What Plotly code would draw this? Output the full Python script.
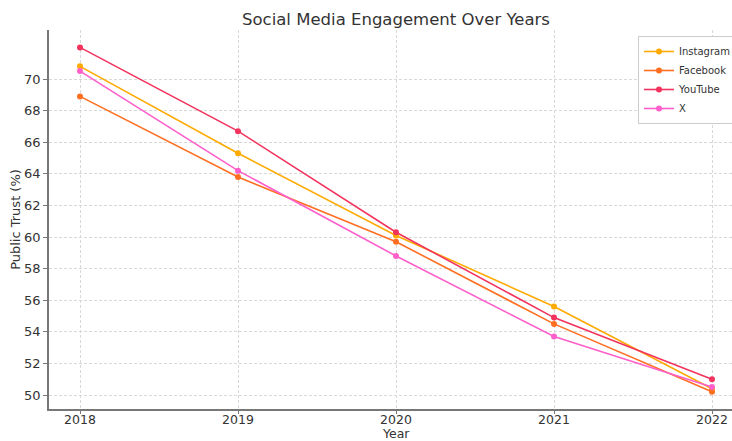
import plotly.graph_objects as go

years = [2018, 2019, 2020, 2021, 2022]
instagram = [70.8, 65.3, 60.1, 55.6, 50.4]
facebook = [68.9, 63.8, 59.7, 54.5, 50.2]
youtube = [72.0, 66.7, 60.3, 54.9, 51.0]
x_platform = [70.5, 64.2, 58.8, 53.7, 50.5]

series = [
    ("Instagram", instagram, "#FFAA00"),
    ("Facebook", facebook, "#FF6F22"),
    ("YouTube", youtube, "#F2335E"),
    ("X", x_platform, "#FF5FCB"),
]

y_ticks = list(range(50, 71, 2))

fig = go.Figure()
for name, vals, color in series:
    fig.add_trace(go.Scatter(
        x=years, y=vals, name=name, mode="lines+markers",
        line=dict(color=color, width=1.6),
        marker=dict(color=color, size=6),
    ))

W, H = 732, 441
L, R, T, B = 49, 0, 30, 32

fig.update_layout(
    width=W, height=H,
    margin=dict(l=L, r=R, t=T, b=B, autoexpand=False),
    paper_bgcolor="white", plot_bgcolor="white",
    font=dict(family="DejaVu Sans", size=13, color="#333333"),
    title=dict(text="Social Media Engagement Over Years",
               x=396 / W, xanchor="center", xref="container",
               y=1 - 19 / H, yanchor="middle", yref="container",
               font=dict(size=16.5, color="#333333")),
    showlegend=True,
    legend=dict(x=(638 - L) / (W - L - R), xanchor="left",
                y=1 - (36 - T) / (H - T - B), yanchor="top",
                bgcolor="white", bordercolor="#cccccc", borderwidth=1,
                font=dict(size=10, color="#333333"),
                tracegroupgap=0, itemwidth=30),
    xaxis=dict(
        range=[2018 - 31 / 158, 2022 + 20 / 158],
        tickvals=years, ticktext=[str(y) for y in years],
        showgrid=True, gridcolor="#d8d8d8", griddash="3px,2px", gridwidth=0.8,
        showline=True, linecolor="#777777", linewidth=1.8,
        ticks="outside", ticklen=3, tickcolor="#777777",
        ticklabelstandoff=-5,
        zeroline=False,
        tickfont=dict(size=12.5),
    ),
    yaxis=dict(
        range=[50 - 14 / 15.8, 70 + 49 / 15.8],
        tickvals=y_ticks,
        showgrid=True, gridcolor="#d8d8d8", griddash="3px,2px", gridwidth=0.8,
        showline=True, linecolor="#777777", linewidth=1.8,
        ticks="outside", ticklen=4, tickcolor="#777777",
        zeroline=False,
        title=dict(text="Public Trust (%)", standoff=0, font=dict(size=13)),
        tickfont=dict(size=13),
    ),
    annotations=[dict(text="Year", xref="paper", x=(396 - L) / (W - L - R),
                      yref="paper", y=-(433.5 - (H - B)) / (H - T - B),
                      xanchor="center", yanchor="middle", showarrow=False,
                      font=dict(size=12.5, color="#333333"))],
)

fig.write_html("out.html")
